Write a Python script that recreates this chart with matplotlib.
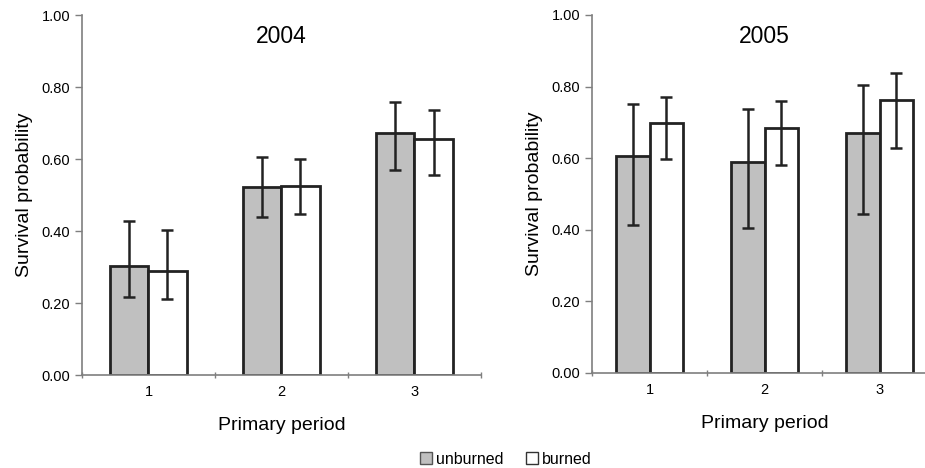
import numpy as np
import matplotlib.pyplot as plt
from matplotlib.patches import Patch

plt.rcParams['font.family'] = ['Liberation Sans', 'DejaVu Sans']

# Data
periods = ['1', '2', '3']
years = ['2004', '2005']

unburned_2004 = [0.304, 0.522, 0.672]
unburned_2004_hi = [0.428, 0.606, 0.759]
unburned_2004_lo = [0.218, 0.438, 0.570]
burned_2004 = [0.290, 0.526, 0.657]
burned_2004_hi = [0.404, 0.601, 0.736]
burned_2004_lo = [0.211, 0.447, 0.555]

unburned_2005 = [0.607, 0.590, 0.670]
unburned_2005_hi = [0.751, 0.737, 0.804]
unburned_2005_lo = [0.413, 0.404, 0.443]
burned_2005 = [0.698, 0.684, 0.763]
burned_2005_hi = [0.771, 0.760, 0.839]
burned_2005_lo = [0.598, 0.580, 0.628]

yticks = [0.0, 0.2, 0.4, 0.6, 0.8, 1.0]

gray_fill = '#c0c0c0'
edge = '#222222'
spine_col = '#7f7f7f'

fig = plt.figure(figsize=(9.25, 4.68), dpi=100)
ax1 = fig.add_axes([0.0886, 0.1987, 0.4314, 0.769])
ax2 = fig.add_axes([0.640, 0.203, 0.373, 0.765])

panels = [
    (ax1, years[0], unburned_2004, unburned_2004_lo, unburned_2004_hi,
     burned_2004, burned_2004_lo, burned_2004_hi, 0.286),
    (ax2, years[1], unburned_2005, unburned_2005_lo, unburned_2005_hi,
     burned_2005, burned_2005_lo, burned_2005_hi, 0.29),
]

for ax, title, ub, ub_lo, ub_hi, b, b_lo, b_hi, w in panels:
    x = np.arange(1, len(periods) + 1)
    ub = np.array(ub)
    b = np.array(b)
    ub_err = [ub - np.array(ub_lo), np.array(ub_hi) - ub]
    b_err = [b - np.array(b_lo), np.array(b_hi) - b]

    ax.bar(x - w / 2, ub, width=w, color=gray_fill, edgecolor=edge, linewidth=2)
    ax.bar(x + w / 2, b, width=w, color='white', edgecolor=edge, linewidth=2)
    ax.errorbar(x - w / 2, ub, yerr=ub_err, fmt='none', ecolor=edge,
                elinewidth=1.8, capsize=4, capthick=1.8)
    ax.errorbar(x + w / 2, b, yerr=b_err, fmt='none', ecolor=edge,
                elinewidth=1.8, capsize=4, capthick=1.8)

    ax.set_xlim(0.5, 3.5)
    ax.set_ylim(0, 1.0)
    ax.set_yticks(yticks)
    ax.set_yticklabels([f'{v:.2f}' for v in yticks])
    ax.set_xticks(x)
    ax.set_xticklabels(periods)
    ax.set_xticks([0.5, 1.5, 2.5, 3.5], minor=True)
    ax.tick_params(axis='x', which='major', length=0, labelsize=10.5, pad=7)
    ax.tick_params(axis='x', which='minor', length=5, width=1, color=spine_col,
                   direction='inout')
    ax.tick_params(axis='y', length=5, width=1, color=spine_col, labelsize=10.5)

    for s in ['top', 'right']:
        ax.spines[s].set_visible(False)
    for s in ['left', 'bottom']:
        ax.spines[s].set_color(spine_col)
        ax.spines[s].set_linewidth(1.2)

    ax.set_ylabel('Survival probability', fontsize=14, labelpad=6)
    ax.set_xlabel('Primary period', fontsize=14, labelpad=13)
    ax.text(0.5, 0.94, title, transform=ax.transAxes, ha='center', va='center',
            fontsize=16.5)

handles = [Patch(facecolor=gray_fill, edgecolor='#555555', label='unburned'),
           Patch(facecolor='white', edgecolor='#333333', label='burned')]
fig.legend(handles=handles, loc='center', bbox_to_anchor=(0.547, 0.019), ncol=2,
           frameon=False, fontsize=11.5, handlelength=0.75, handleheight=0.75,
           handletextpad=0.25, columnspacing=1.4)

fig.savefig('out.png', dpi=100)
